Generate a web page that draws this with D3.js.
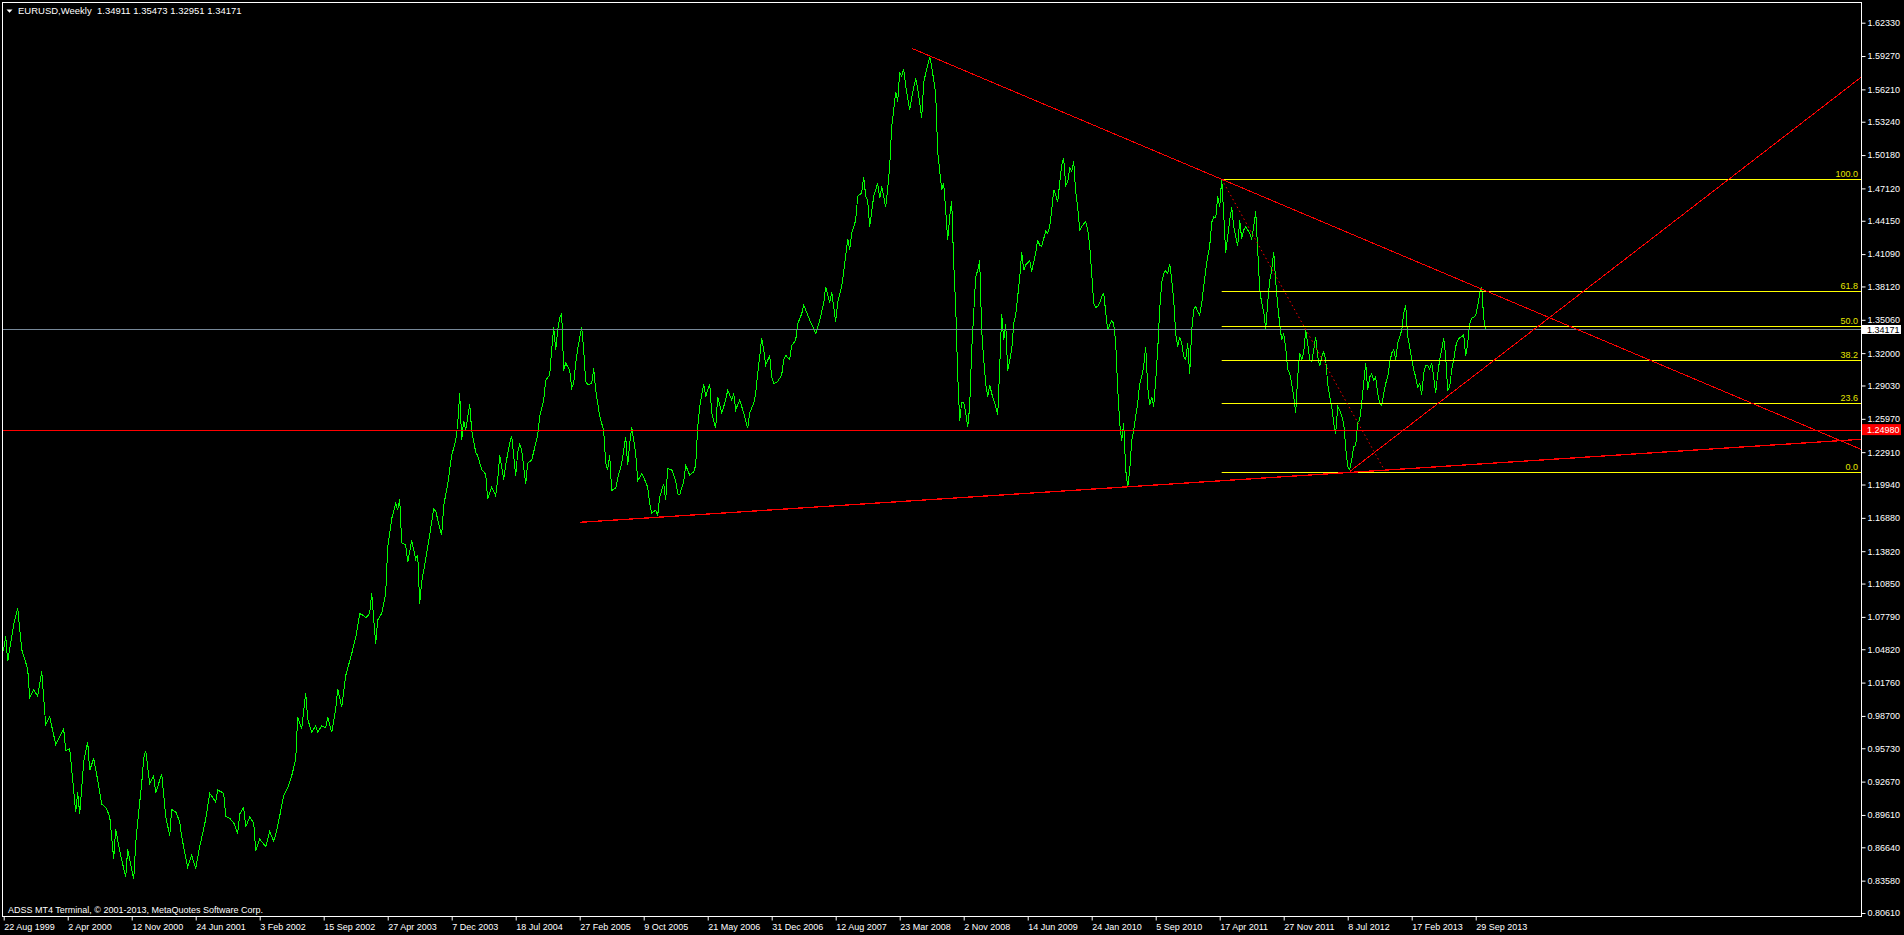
<!DOCTYPE html>
<html><head><meta charset="utf-8">
<script src="https://cdn.jsdelivr.net/npm/d3@7"></script>
<style>
html,body{margin:0;padding:0;background:#000;overflow:hidden}
svg{display:block}
text{font-family:"Liberation Sans",Arial,sans-serif;font-size:9px;fill:#fff}
</style></head><body>
<svg id="chart" width="1904" height="935"></svg>
<script>
// ---------------- data ----------------
const symbolTitle = "EURUSD,Weekly";
const ohlc = [1.34911, 1.35473, 1.32951, 1.34171];
const copyright = "ADSS MT4 Terminal, \u00A9 2001-2013, MetaQuotes Software Corp.";
const firstBarLabel = "1999-08-22";           // week index 0
const xTickLabels = ["22 Aug 1999","2 Apr 2000","12 Nov 2000","24 Jun 2001","3 Feb 2002","15 Sep 2002",
  "27 Apr 2003","7 Dec 2003","18 Jul 2004","27 Feb 2005","9 Oct 2005","21 May 2006","31 Dec 2006",
  "12 Aug 2007","23 Mar 2008","2 Nov 2008","14 Jun 2009","24 Jan 2010","5 Sep 2010","17 Apr 2011",
  "27 Nov 2011","8 Jul 2012","17 Feb 2013","29 Sep 2013"];
const yTickValues = [1.62330,1.59270,1.56210,1.53240,1.50180,1.47120,1.44150,1.41090,1.38120,1.35060,
  1.32000,1.29030,1.25970,1.22910,1.19940,1.16880,1.13820,1.10850,1.07790,1.04820,1.01760,0.98700,
  0.95730,0.92670,0.89610,0.86640,0.83580,0.80610];
const priceDomain = [0.80610, 1.62330];
// weekly closes: [week index from 22 Aug 1999, close]
const closeSeries = [
[-1,1.043],[0,1.048],[1,1.060],[2,1.037],[5,1.071],[7,1.086],[9,1.048],[12,1.030],[13,1.004],[15,1.011],[17,1.005],[19,1.028],[21,0.979],[23,0.986],[26,0.961],[30,0.975],[31,0.955],[33,0.957],[36,0.899],[37,0.917],[38,0.897],[40,0.945],[42,0.963],[43,0.937],[45,0.948],[47,0.928],[49,0.906],[51,0.903],[53,0.895],[55,0.856],[56,0.883],[58,0.863],[61,0.839],[62,0.865],[63,0.855],[65,0.837],[66,0.870],[67,0.890],[69,0.925],[70,0.948],[71,0.955],[73,0.925],[75,0.932],[76,0.916],[79,0.934],[81,0.895],[83,0.877],[84,0.901],[86,0.899],[88,0.890],[89,0.876],[92,0.848],[94,0.859],[96,0.847],[98,0.867],[101,0.892],[103,0.916],[106,0.908],[107,0.919],[110,0.916],[111,0.895],[113,0.893],[115,0.889],[117,0.879],[118,0.897],[120,0.903],[121,0.885],[123,0.894],[125,0.889],[126,0.863],[128,0.874],[131,0.867],[133,0.881],[135,0.872],[136,0.878],[138,0.895],[140,0.914],[142,0.921],[144,0.932],[146,0.947],[147,0.986],[149,0.975],[151,1.008],[152,0.984],[154,0.972],[156,0.978],[157,0.972],[159,0.978],[161,0.976],[162,0.986],[164,0.972],[166,0.993],[167,1.012],[169,0.995],[171,1.024],[174,1.044],[176,1.059],[178,1.081],[180,1.079],[181,1.077],[183,1.081],[184,1.100],[186,1.053],[187,1.075],[189,1.081],[191,1.099],[192,1.142],[194,1.168],[196,1.182],[197,1.176],[198,1.186],[199,1.146],[201,1.144],[202,1.128],[204,1.148],[206,1.131],[207,1.135],[208,1.090],[209,1.110],[211,1.131],[213,1.153],[215,1.177],[216,1.175],[218,1.160],[219,1.153],[220,1.180],[222,1.200],[224,1.226],[226,1.240],[227,1.255],[228,1.283],[229,1.240],[230,1.258],[231,1.249],[233,1.273],[234,1.249],[236,1.229],[237,1.226],[239,1.213],[241,1.209],[242,1.186],[244,1.197],[246,1.189],[247,1.204],[248,1.226],[250,1.204],[251,1.218],[253,1.237],[254,1.244],[256,1.207],[257,1.229],
[258,1.236],[259,1.231],[261,1.200],[262,1.219],[264,1.222],[266,1.237],[267,1.245],[268,1.262],[270,1.277],[271,1.295],[273,1.300],[274,1.323],[275,1.344],[276,1.323],[277,1.341],[278,1.353],[279,1.356],[280,1.304],[281,1.311],[283,1.304],[284,1.288],[285,1.292],[286,1.311],[287,1.324],[289,1.344],[290,1.323],[291,1.294],[292,1.291],[294,1.292],[295,1.306],[296,1.286],[298,1.262],[300,1.249],[301,1.219],[302,1.213],[303,1.226],[304,1.194],[306,1.196],[307,1.205],[309,1.219],[311,1.243],[312,1.217],[313,1.237],[314,1.252],[316,1.228],[317,1.203],[319,1.209],[320,1.206],[322,1.197],[323,1.182],[324,1.173],[326,1.176],[327,1.171],[328,1.188],[330,1.200],[331,1.185],[332,1.214],[334,1.213],[336,1.203],[337,1.191],[338,1.190],[340,1.202],[341,1.217],[343,1.208],[345,1.211],[346,1.217],[347,1.252],[348,1.271],[350,1.292],[351,1.280],[353,1.292],[354,1.265],[356,1.251],[357,1.280],[359,1.265],[361,1.277],[362,1.286],[364,1.277],[365,1.283],[366,1.268],[368,1.277],[370,1.265],[372,1.251],[373,1.265],[375,1.274],[376,1.283],[377,1.301],[378,1.317],[379,1.334],[380,1.323],[381,1.309],[383,1.318],[384,1.298],[385,1.292],[387,1.294],[389,1.300],[390,1.314],[391,1.318],[393,1.314],[394,1.327],[396,1.332],[397,1.347],[399,1.356],[400,1.364],[402,1.355],[404,1.346],[405,1.343],[406,1.338],[408,1.350],[410,1.366],[411,1.381],[413,1.366],[414,1.376],[416,1.349],[417,1.367],[419,1.381],[421,1.409],[422,1.425],[423,1.415],[424,1.430],[426,1.442],[427,1.464],[429,1.467],[430,1.482],[431,1.464],[432,1.460],[433,1.436],[435,1.464],[437,1.476],[438,1.462],[439,1.473],[441,1.454],[442,1.471],[443,1.491],[444,1.528],[445,1.543],[446,1.560],[447,1.551],[448,1.578],[449,1.574],[450,1.581],[451,1.565],[453,1.543],[454,1.555],[456,1.572],[457,1.563],[459,1.536],[460,1.568],[461,1.577],[463,1.592],[464,1.583],[466,1.558],[467,1.505],[469,1.470],[470,1.476],[471,1.451],[472,1.424],[473,1.445],[474,1.460],[475,1.402],[476,1.363],[477,1.300],[478,1.258],[479,1.275],[480,1.275],[481,1.265],[482,1.252],[483,1.271],[484,1.323],[486,1.390],[487,1.396],[488,1.405],[489,1.341],[490,1.314],[491,1.292],[492,1.280],[493,1.291],[494,1.283],[496,1.271],[497,1.263],[498,1.307],[499,1.356],[500,1.332],[501,1.347],[502,1.304],[504,1.323],[505,1.347],[506,1.355],[508,1.389],[509,1.413],[510,1.396],[511,1.401],[513,1.405],[514,1.395],[516,1.412],[517,1.424],
[518,1.419],[519,1.418],[521,1.432],[522,1.430],[523,1.436],[524,1.451],[525,1.470],[526,1.465],[527,1.459],[528,1.476],[529,1.493],[530,1.499],[531,1.474],[532,1.477],[533,1.490],[534,1.487],[535,1.496],[536,1.468],[537,1.454],[538,1.433],[539,1.436],[541,1.441],[542,1.433],[543,1.419],[544,1.393],[545,1.366],[546,1.362],[547,1.363],[548,1.366],[549,1.372],[550,1.375],[551,1.358],[552,1.341],[553,1.346],[554,1.350],[555,1.347],[556,1.330],[557,1.288],[558,1.256],[559,1.239],[560,1.256],[561,1.213],[562,1.197],[563,1.212],[564,1.240],[565,1.249],[566,1.262],[567,1.274],[568,1.292],[569,1.298],[570,1.308],[571,1.326],[572,1.289],[573,1.272],[574,1.280],[575,1.271],[576,1.295],[577,1.323],[578,1.360],[579,1.385],[580,1.393],[581,1.396],[582,1.393],[583,1.402],[584,1.387],[585,1.369],[586,1.338],[587,1.326],[588,1.335],[589,1.329],[590,1.317],[591,1.314],[592,1.329],[593,1.301],[594,1.341],[595,1.360],[596,1.363],[597,1.358],[598,1.355],[599,1.366],[600,1.381],[601,1.396],[602,1.409],[603,1.418],[604,1.440],[605,1.445],[606,1.444],[607,1.464],[608,1.454],[609,1.480],
[610,1.448],[611,1.412],[612,1.427],[613,1.442],[614,1.454],[615,1.436],[616,1.427],[617,1.418],[618,1.442],[619,1.425],[620,1.433],[621,1.436],[622,1.433],[623,1.430],[624,1.425],[625,1.436],[626,1.450],[627,1.415],[628,1.378],[629,1.366],[630,1.358],[631,1.342],[632,1.366],[633,1.387],[634,1.396],[635,1.413],[636,1.386],[637,1.364],[638,1.347],[639,1.332],[640,1.338],[641,1.325],[642,1.305],[643,1.301],[644,1.292],[645,1.280],[646,1.265],[647,1.298],[648,1.320],[649,1.314],[650,1.321],[651,1.341],[652,1.329],[653,1.314],[654,1.312],[655,1.323],[656,1.335],[657,1.317],[658,1.308],[659,1.317],[660,1.321],[661,1.314],[662,1.292],[663,1.280],[664,1.271],[665,1.256],[666,1.246],[667,1.271],[668,1.268],[669,1.262],[670,1.256],[671,1.233],[672,1.216],[673,1.213],
[674,1.222],[675,1.234],[676,1.235],[677,1.256],[678,1.259],[679,1.274],[680,1.292],[681,1.311],[682,1.286],[683,1.298],[684,1.301],[685,1.295],[686,1.298],[687,1.283],[688,1.274],[689,1.272],[690,1.283],[691,1.292],[692,1.298],[693,1.311],[694,1.320],[695,1.323],[696,1.314],[697,1.329],[698,1.335],[699,1.341],[700,1.357],[701,1.364],[702,1.335],[703,1.326],[704,1.314],[705,1.305],[706,1.298],[707,1.289],[708,1.292],[709,1.282],[710,1.301],[711,1.309],[712,1.309],[713,1.305],[714,1.311],[715,1.298],[716,1.283],[717,1.301],[718,1.314],[719,1.323],[720,1.334],[721,1.317],[722,1.286],[723,1.289],[724,1.305],[725,1.314],[726,1.326],[727,1.332],[728,1.334],[729,1.335],[730,1.337],[731,1.317],[732,1.329],[733,1.347],[734,1.352],[735,1.353],[736,1.355],[737,1.363],[738,1.375],[739,1.381],[740,1.352],[741,1.34171]
];
const bidPrice = 1.34171;
const alertPrice = 1.24980;
const fibAnchors = [[609, 1.4796], [691, 1.2105]];      // [week, price]
const fibLevels = [0, 23.6, 38.2, 50, 61.8, 100];
const resistanceLine = [[454, 1.5998], [609, 1.4796]];  // ray
const supportLine = [[288, 1.1647], [673, 1.2105]];     // ray
const risingLine = [[673, 1.2113], [718, 1.2750]];      // ray

// ---------------- layout ----------------
const W = 1904, H = 935;
const frame = {left: 2, top: 2, right: 1861, bottom: 916};
const svg = d3.select("#chart");
svg.append("rect").attr("width", W).attr("height", H).attr("fill", "#000");

const base = new Date(firstBarLabel + "T00:00:00Z");
const weekDate = w => d3.utcDay.offset(base, 7 * w);
const x = d3.scaleUtc().domain([weekDate(0), weekDate(736)]).range([3.7, 1475.7]);
const y = d3.scaleLinear().domain(priceDomain).range([913.0, 22.7]);
const px = d => x(weekDate(d[0]));
const py = d => y(d[1]);

svg.append("clipPath").attr("id", "plot").append("rect")
  .attr("x", frame.left).attr("y", frame.top)
  .attr("width", frame.right - frame.left).attr("height", frame.bottom - frame.top);
const plot = svg.append("g").attr("clip-path", "url(#plot)");

// price line
plot.append("path").datum(closeSeries)
  .attr("d", d3.line().x(px).y(py))
  .attr("fill", "none").attr("stroke", "#00ff00").attr("stroke-width", 1)
  .attr("shape-rendering", "crispEdges");

// bid line & alert line
const hline = (p, color) => plot.append("line")
  .attr("x1", frame.left).attr("x2", frame.right)
  .attr("y1", Math.round(y(p)) + 0.5).attr("y2", Math.round(y(p)) + 0.5)
  .attr("stroke", color).attr("stroke-width", 1);
hline(bidPrice, "#778899");
hline(alertPrice, "#ff0000");

// fibonacci
const fHigh = fibAnchors[0][1], fLow = fibAnchors[1][1];
const fx0 = px(fibAnchors[0]);
fibLevels.forEach(l => {
  const p = fLow + (fHigh - fLow) * l / 100;
  const yy = Math.round(y(p)) + 0.5;
  plot.append("line").attr("x1", fx0).attr("x2", frame.right)
    .attr("y1", yy).attr("y2", yy).attr("stroke", "#ffff00").attr("stroke-width", 1);
  svg.append("text").attr("x", frame.right - 3).attr("y", yy - 2.5)
    .attr("text-anchor", "end").style("fill", "#e6e600")
    .text(d3.format(".1f")(l));
});
plot.append("line")
  .attr("x1", px(fibAnchors[0])).attr("y1", py(fibAnchors[0]))
  .attr("x2", px(fibAnchors[1])).attr("y2", py(fibAnchors[1]))
  .attr("stroke", "#ff0000").attr("stroke-width", 1).attr("stroke-dasharray", "1.5,3");

// trend rays
const ray = (pts, width) => {
  const x1 = px(pts[0]), y1 = py(pts[0]), x2 = px(pts[1]), y2 = py(pts[1]);
  const k = (y2 - y1) / (x2 - x1);
  plot.append("line").attr("x1", x1).attr("y1", y1)
    .attr("x2", frame.right).attr("y2", y1 + k * (frame.right - x1))
    .attr("stroke", "#ff0000").attr("stroke-width", width)
    .attr("shape-rendering", "crispEdges");
};
ray(resistanceLine, 1);
ray(supportLine, 1.3);
ray(risingLine, 1);

// frame
svg.append("rect").attr("x", frame.left + 0.5).attr("y", frame.top + 0.5)
  .attr("width", frame.right - frame.left).attr("height", frame.bottom - frame.top)
  .attr("fill", "none").attr("stroke", "#fff").attr("stroke-width", 1);

// axes
const parseLabel = d3.utcParse("%d %b %Y");
const xAxis = d3.axisBottom(x).tickValues(xTickLabels.map(parseLabel))
  .tickFormat(d3.utcFormat("%-d %b %Y")).tickSize(4).tickPadding(3);
const gx = svg.append("g").attr("transform", `translate(0,${frame.bottom + 0.5})`).call(xAxis);
gx.select(".domain").remove();
gx.selectAll("line").attr("stroke", "#fff");
gx.selectAll("text").attr("text-anchor", "start").attr("x", 0)
  .attr("font-size", null).attr("font-family", null).style("fill", "#fff");
gx.attr("font-size", null).attr("font-family", null);

const yAxis = d3.axisRight(y).tickValues(yTickValues).tickFormat(d3.format(".5f"))
  .tickSize(4).tickPadding(2);
const gy = svg.append("g").attr("transform", `translate(${frame.right + 0.5},0)`).call(yAxis);
gy.select(".domain").remove();
gy.selectAll("line").attr("stroke", "#fff");
gy.selectAll("text").style("fill", "#fff");
gy.attr("font-size", null).attr("font-family", null);

// price tags
const tag = (p, bg, fg, h) => {
  const yy = y(p);
  svg.append("rect").attr("x", frame.right + 1).attr("y", yy - h / 2)
    .attr("width", 39).attr("height", h).attr("fill", bg);
  svg.append("text").attr("x", frame.right + 6).attr("y", yy).attr("dy", "0.34em")
    .style("fill", fg).text(d3.format(".5f")(p));
};
tag(bidPrice, "#ffffff", "#000000", 9);
tag(alertPrice, "#ff0000", "#ffffff", 11);

// title
svg.append("path").attr("d", "M6.5,9.5 L12.5,9.5 L9.5,12.8 Z").attr("fill", "#fff");
svg.append("text").attr("x", 18).attr("y", 14).attr("xml:space", "preserve")
  .style("white-space", "pre").style("font-size", "9.5px")
  .text(symbolTitle + "  " + ohlc.map(d3.format(".5f")).join(" "));

// copyright
svg.append("text").attr("x", 8).attr("y", 913).text(copyright);
</script>
</body></html>
